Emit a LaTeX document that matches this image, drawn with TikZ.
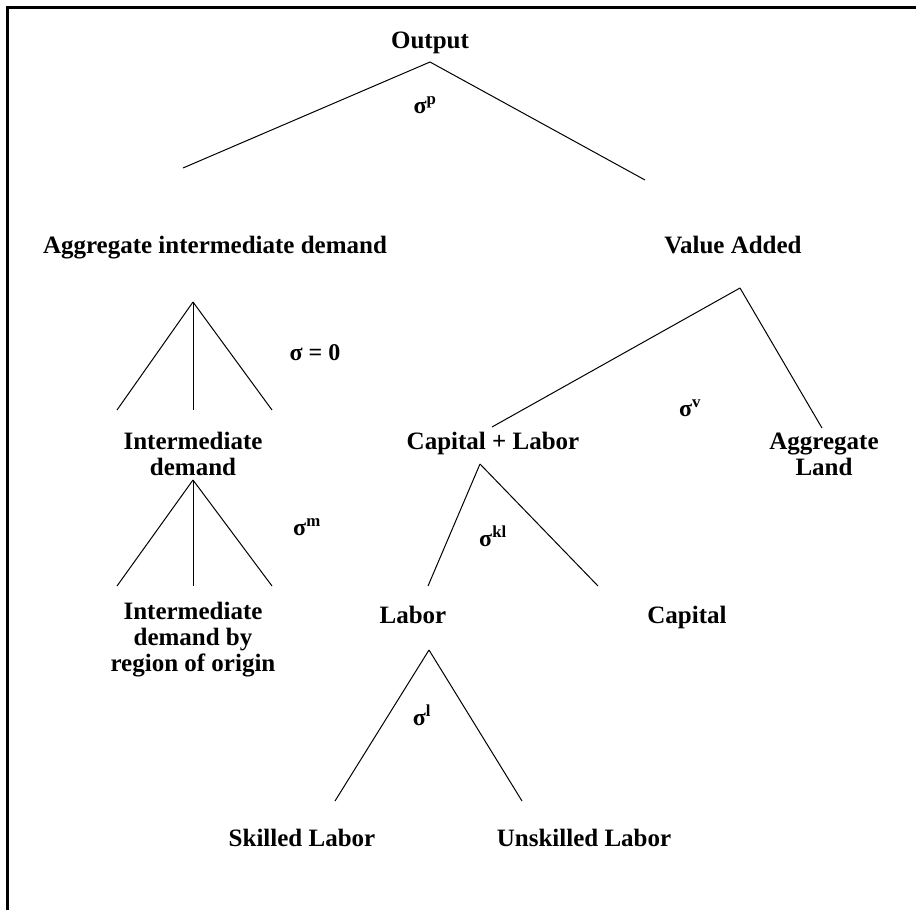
\documentclass[tikz,border=0pt]{standalone}
\usepackage{fontspec}
\setmainfont{Liberation Serif}
\usetikzlibrary{positioning}

\begin{document}
\begin{tikzpicture}[x=1pt,y=-1pt, label/.style={font=\bfseries\fontsize{25}{26}\selectfont,align=center,inner sep=0pt}, sig/.style={font=\bfseries\fontsize{24}{26}\selectfont,inner sep=0pt}, line width=1pt]
        \useasboundingbox (0,0) rectangle (916,910);
        \draw[line width=3pt] (7,912) -- (7,7) -- (918,7);
        % labels
        \node[label,anchor=base](out)  at (430,48)  {Output};
        \node[label,anchor=base](agg)  at (215,253) {Aggregate intermediate demand};
        \node[label,anchor=base](va)   at (733,253) {Value Added};
        \node[label](int)              at (193,454) {Intermediate\\demand};
        \node[label,anchor=base](kl)   at (493,449) {Capital + Labor};
        \node[label](land)             at (824,454) {Aggregate\\Land};
        \node[label](reg)              at (193,640) {Intermediate\\demand by\\region of origin};
        \node[label,anchor=base](lab)  at (413,623) {Labor};
        \node[label,anchor=base](cap)  at (687,623) {Capital};
        \node[label,anchor=base](skl)  at (302,846) {Skilled Labor};
        \node[label,anchor=base](uns)  at (584,846) {Unskilled Labor};
        % elasticities
        \node[sig](sp)  at (425,105) {σ\textsuperscript{p}};
        \node[sig](s0)  at (315,353) {σ = 0};
        \node[sig](sv)  at (690,408) {σ\textsuperscript{v}};
        \node[sig](sm)  at (307,527) {σ\textsuperscript{m}};
        \node[sig](skapl) at (493,536) {σ\textsuperscript{kl}};
        \node[sig](sl)  at (422,715) {σ\textsuperscript{l}};
        % nests
        \coordinate (a0) at (430,62);
        \coordinate (a1) at (183,168);
        \coordinate (a2) at (645,180);
        \coordinate (b0) at (193,302);
        \coordinate (b1) at (117,410);
        \coordinate (b2) at (193,410);
        \coordinate (b3) at (272,410);
        \coordinate (c0) at (740,288);
        \coordinate (c1) at (492,427);
        \coordinate (c2) at (822,428);
        \coordinate (d0) at (193,480);
        \coordinate (d1) at (117,586);
        \coordinate (d2) at (193,586);
        \coordinate (d3) at (272,586);
        \coordinate (e0) at (480,464);
        \coordinate (e1) at (428,586);
        \coordinate (e2) at (598,586);
        \coordinate (f0) at (429,650);
        \coordinate (f1) at (335,801);
        \coordinate (f2) at (522,801);
        \path[draw]
          (a0) edge (a1)
          (a0) edge (a2)
          (b0) edge (b1)
          (b0) edge (b2)
          (b0) edge (b3)
          (c0) edge (c1)
          (c0) edge (c2)
          (d0) edge (d1)
          (d0) edge (d2)
          (d0) edge (d3)
          (e0) edge (e1)
          (e0) edge (e2)
          (f0) edge (f1)
          (f0) edge (f2)
          ;
      \end{tikzpicture}
\end{document}
